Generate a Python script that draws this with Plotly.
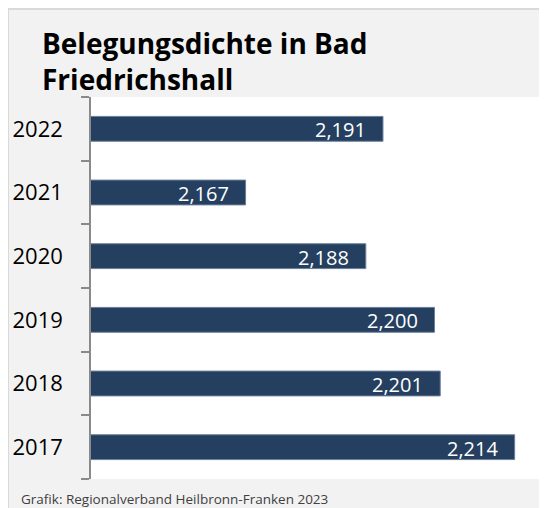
import plotly.graph_objects as go

years = ["2017", "2018", "2019", "2020", "2021", "2022"]
values = [2.214, 2.201, 2.200, 2.188, 2.167, 2.191]
labels = ["2,214", "2,201", "2,200", "2,188", "2,167", "2,191"]
title_text = "Belegungsdichte in Bad<br>Friedrichshall"
source_text = "Grafik: Regionalverband Heilbronn-Franken 2023"

# figure is placed by the page at (8, 8); coordinates below are figure pixels
W, H = 547, 508
L, R, T, B = 83, 6, 89, 37
pw, ph = W - L - R, H - T - B

def px_x(px):
    return (px - L) / pw

def px_y(py):
    return (H - B - py) / ph

FONT = "Open Sans, Carlito, Calibri, sans-serif"
BAR = "#253f60"

fig = go.Figure()
fig.add_trace(go.Bar(
    x=values, y=years, orientation="h",
    marker=dict(color=BAR, line=dict(color="#6b7f9a", width=1)),
    width=0.39,
    hoverinfo="skip",
))

for i, (v, lab) in enumerate(zip(values, labels)):
    fig.add_annotation(x=v, y=i, xref="x", yref="y", text=lab, showarrow=False,
                       xanchor="right", yanchor="middle", xshift=-15, yshift=-1,
                       font=dict(family=FONT, size=20, color="white"))

fig.add_annotation(x=px_x(11), y=px_y(491), xref="paper", yref="paper",
                   text=source_text, showarrow=False, xanchor="left", yanchor="middle",
                   font=dict(family=FONT, size=13.5, color="#404040"))

shapes = [
    dict(type="line", xref="paper", yref="paper", x0=px_x(0), x1=px_x(W), y0=px_y(1), y1=px_y(1),
         line=dict(color="#d9d9d9", width=2)),
    dict(type="line", xref="paper", yref="paper", x0=px_x(0), x1=px_x(0), y0=px_y(0), y1=px_y(H),
         line=dict(color="#d9d9d9", width=2)),
]

fig.update_layout(
    width=W, height=H,
    margin=dict(l=L, r=R, t=T, b=B, pad=0, autoexpand=False),
    paper_bgcolor="#f2f2f2",
    plot_bgcolor="white",
    showlegend=False,
    shapes=shapes,
    title=dict(text=title_text, x=34 / W, xanchor="left", xref="container",
               y=1 - 46 / H, yanchor="top", yref="container",
               font=dict(family=FONT, size=28, color="black", weight="bold")),
    xaxis=dict(range=[2.14, 2.22], visible=False, showgrid=False, zeroline=False, fixedrange=True),
    yaxis=dict(type="category", categoryorder="array", categoryarray=years,
               range=[-0.5, len(years) - 0.5], automargin=False,
               showline=True, linecolor="#8a8a8a", linewidth=1.5,
               ticks="outside", ticklen=8, tickcolor="#8a8a8a", tickwidth=1.5,
               tickson="boundaries", ticklabelstandoff=22,
               showgrid=False, zeroline=False, fixedrange=True,
               tickfont=dict(family=FONT, size=22, color="black")),
)

fig.write_html("out.html")
